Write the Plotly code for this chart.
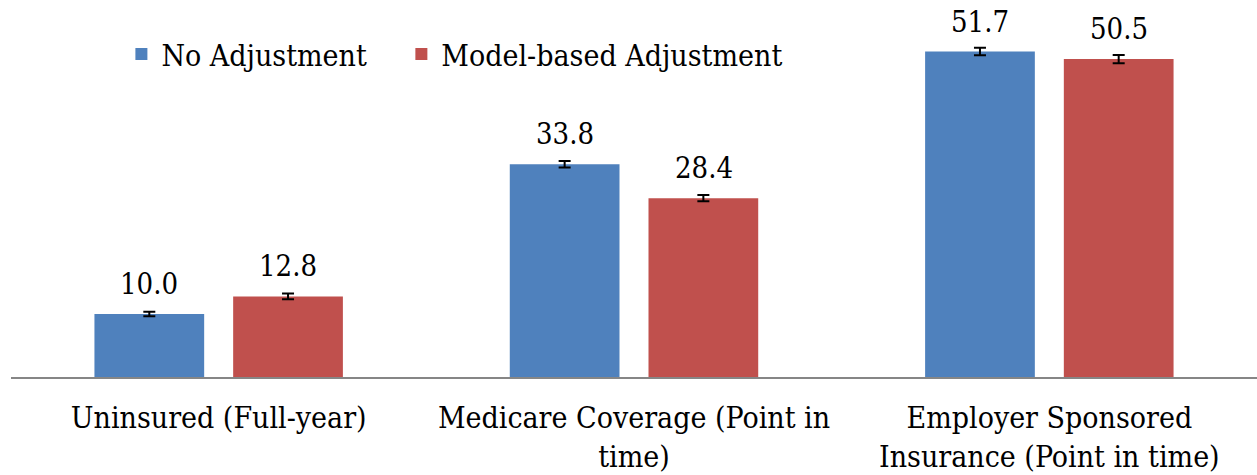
import plotly.graph_objects as go

categories = ["Uninsured (Full-year)", "Medicare Coverage (Point in<br>time)",
              "Employer Sponsored<br>Insurance (Point in time)"]
series_names = ["No Adjustment", "Model-based Adjustment"]
no_adj = [10.0, 33.8, 51.7]
model_adj = [12.8, 28.4, 50.5]
no_adj_err = [0.35, 0.5, 0.6]
model_adj_err = [0.45, 0.5, 0.65]
colors = ["#4F81BD", "#C0504D"]
legend_ids = ["legend", "legend2"]

FONT = "DejaVu Serif Condensed, DejaVu Serif, serif"

fig = go.Figure()
for name, vals, errs, col, lg in zip(series_names, [no_adj, model_adj],
                                     [no_adj_err, model_adj_err], colors,
                                     legend_ids):
    fig.add_trace(go.Bar(
        x=categories, y=vals, name=name, marker_color=col,
        marker_line_width=0, legend=lg,
        error_y=dict(type="data", array=errs, visible=True,
                     color="black", thickness=2, width=6),
    ))

# value labels above each bar
for tr_idx, vals in enumerate([no_adj, model_adj]):
    for ci, v in enumerate(vals):
        fig.add_annotation(
            x=ci, y=v, xref="x", yref="y", text=f"{v:.1f}",
            showarrow=False, yanchor="bottom", yshift=11,
            height=32, valign="bottom",
            xshift=(-69.5 if tr_idx == 0 else 69.5),
            font=dict(family=FONT, size=29, color="black"),
        )

legend_common = dict(orientation="h", xanchor="left", y=0.88,
                     yanchor="middle", font=dict(family=FONT, size=30),
                     bgcolor="rgba(0,0,0,0)")

fig.update_layout(
    width=1257, height=475,
    margin=dict(l=11, r=0, t=10, b=98),
    paper_bgcolor="white", plot_bgcolor="white",
    barmode="group", bargap=0.332, bargroupgap=0.209,
    font=dict(family=FONT, size=30, color="black"),
    showlegend=True,
    legend=dict(x=0.0886, **legend_common),
    legend2=dict(x=0.3133, **legend_common),
    xaxis=dict(showline=True, linecolor="#868686", linewidth=2,
               ticks="", showgrid=False, zeroline=False,
               ticklabelstandoff=13,
               tickfont=dict(family=FONT, size=30)),
    yaxis=dict(visible=False, range=[0, 58.3], showgrid=False,
               zeroline=False),
)

fig.write_html("out.html",
               config={"displayModeBar": False},
               post_script="document.body.style.margin='0';"
                           "document.body.style.overflow='hidden';")
